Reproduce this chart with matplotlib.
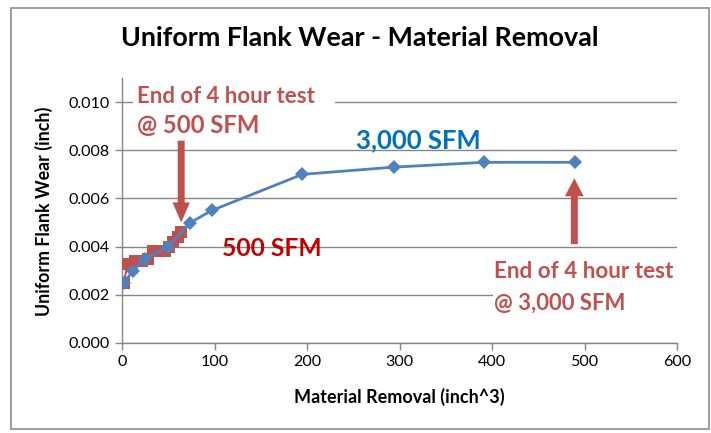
import matplotlib
matplotlib.use("Agg")
import matplotlib.pyplot as plt
from matplotlib.patches import FancyArrowPatch, Rectangle

# ---- data ----
x_3000 = [2, 12, 25, 50, 74, 97, 195, 294, 391, 490]
y_3000 = [0.0025, 0.0030, 0.0035, 0.0040, 0.0050, 0.0055, 0.0070, 0.0073, 0.0075, 0.0075]

x_500 = [2, 6, 10, 14, 18, 22, 28, 34, 38, 42, 46, 51, 55, 60, 64]
y_500 = [0.0025, 0.0033, 0.0033, 0.0034, 0.0034, 0.0034, 0.0035, 0.0038, 0.0038,
         0.0038, 0.0038, 0.0040, 0.0042, 0.0044, 0.0046]

x_ticks = [0, 100, 200, 300, 400, 500, 600]
y_ticks = [0.000, 0.002, 0.004, 0.006, 0.008, 0.010]

title = "Uniform Flank Wear - Material Removal"
xlabel = "Material Removal (inch^3)"
ylabel = "Uniform Flank Wear (inch)"

FONT = ["Lato", "DejaVu Sans"]
plt.rcParams['font.family'] = FONT

W, H = 711, 433
fig = plt.figure(figsize=(W / 100, H / 100), dpi=100)

# outer chart border
fig.patches.append(Rectangle((11 / W, 1 - 429 / H), (709 - 11) / W, (429 - 8) / H,
                             transform=fig.transFigure, fill=False,
                             edgecolor="#8c8c8c", linewidth=1.2))

ax_l, ax_r, ax_b, ax_t = 122, 677, 343, 78
ax = fig.add_axes([ax_l / W, 1 - ax_b / H, (ax_r - ax_l) / W, (ax_b - ax_t) / H])
ax.set_xlim(0, 600)
ax.set_ylim(0, 0.011)
ax.set_xticks(x_ticks)
ax.set_yticks(y_ticks)
ax.set_yticklabels([f"{v:.3f}" for v in y_ticks])
ax.set_xticklabels([str(v) for v in x_ticks])
for s in ["top", "right"]:
    ax.spines[s].set_visible(False)
for s in ["left", "bottom"]:
    ax.spines[s].set_color("#868686")
    ax.spines[s].set_linewidth(1.0)
ax.tick_params(axis="both", direction="out", length=5, width=1.0, color="#868686",
               labelcolor="black", pad=4)
ax.set_axisbelow(True)
ax.grid(axis="y", color="#868686", linewidth=1.0)

red = "#C0504D"
blue = "#4F81BD"

ax.plot(x_500, y_500, color=red, linewidth=1.5, marker="s", markersize=9.3,
        markeredgewidth=0, zorder=3)
ax.plot(x_3000, y_3000, color=blue, linewidth=2.0, marker="D", markersize=6.8,
        markeredgewidth=0, zorder=4)

# px -> data helpers
def dx(px):
    return (px - ax_l) / (ax_r - ax_l) * 600

def dy(py):
    return (ax_b - py) / (ax_b - ax_t) * 0.011

# white boxes behind annotation texts (hide gridlines)
ax.add_patch(Rectangle((dx(133), dy(140)), dx(335) - dx(133), dy(80) - dy(140),
                       facecolor="white", edgecolor="none", zorder=1))
ax.add_patch(Rectangle((dx(493), dy(318)), dx(680) - dx(493), dy(258) - dy(318),
                       facecolor="white", edgecolor="none", zorder=1, clip_on=False))

texts = []

def add_text(xpx, ypx, s, color, target_w, weight="bold", ha="left"):
    t = ax.text(dx(xpx), dy(ypx), s, color=color, fontsize=14, fontweight=weight,
                ha=ha, va="center", zorder=5)
    texts.append((t, target_w))
    return t

add_text(137, 97, "End of 4 hour test", red, 179)
add_text(137, 126, "@ 500 SFM", red, 179 * 0.69)
add_text(494, 272, "End of 4 hour test", red, 181)
add_text(494, 303, "@ 3,000 SFM", red, 181 * 0.73)
add_text(355.5, 140, "3,000 SFM", "#0070C0", 125.5)
add_text(221.7, 248, "500 SFM", "#C00000", 100)

t_title = fig.text(360 / W, 1 - 38 / H, title, fontsize=18, fontweight="bold",
                   ha="center", va="center", color="black")
texts.append((t_title, 478))
t_xl = fig.text(399 / W, 1 - 396.7 / H, xlabel, fontsize=12, fontweight="bold",
                ha="center", va="center", color="black")
texts.append((t_xl, 209))
t_yl = fig.text(44 / W, 1 - 211 / H, ylabel, fontsize=12, fontweight="bold",
                ha="center", va="center", rotation=90, color="black")
texts.append((t_yl, 208))

# arrows
arr1 = FancyArrowPatch((64, 0.0084), (64, 0.00500),
                       arrowstyle="simple,head_width=12.5,head_length=14.5,tail_width=5",
                       color=red, linewidth=0, shrinkA=0, shrinkB=0, zorder=5)
arr2 = FancyArrowPatch((489, 0.0041), (489, 0.00684),
                       arrowstyle="simple,head_width=13.5,head_length=13,tail_width=5",
                       color=red, linewidth=0, shrinkA=0, shrinkB=0, zorder=5)
ax.add_patch(arr1)
ax.add_patch(arr2)

# fit font sizes to measured widths
fig.canvas.draw()
r = fig.canvas.get_renderer()
for t, w in texts:
    bb = t.get_window_extent(renderer=r)
    cur = bb.height if t.get_rotation() == 90 else bb.width
    t.set_fontsize(t.get_fontsize() * w / cur)

# tick label sizes: "500" ~28 px wide
lbl = ax.get_xticklabels()[5]
bb = lbl.get_window_extent(renderer=r)
tsize = lbl.get_fontsize() * 28 / bb.width
ax.tick_params(axis="both", labelsize=tsize)

fig.savefig("out.png", dpi=100)
